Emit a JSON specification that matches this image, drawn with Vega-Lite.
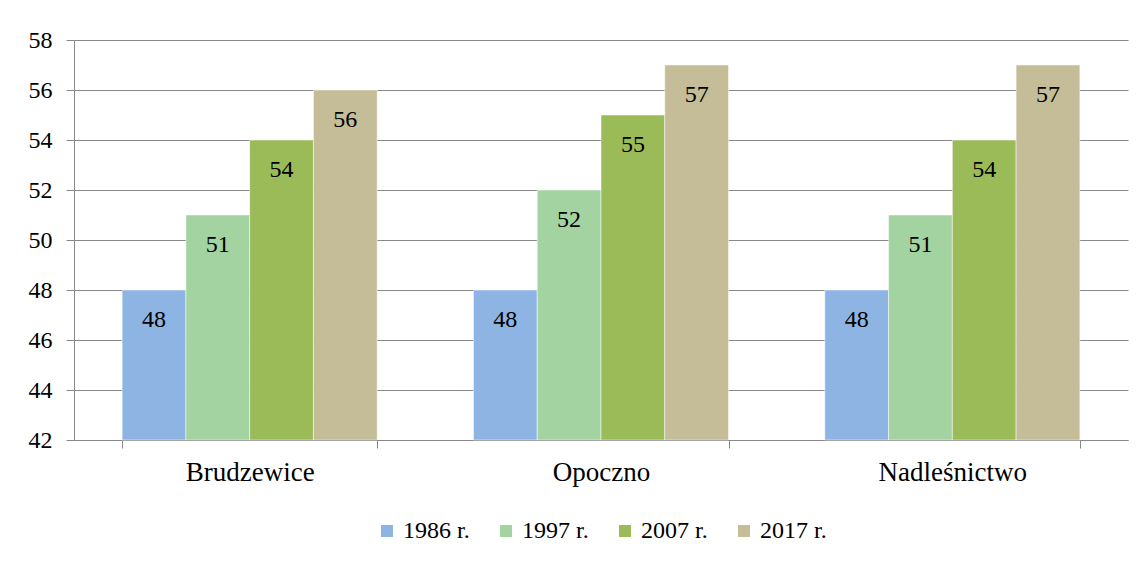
{
  "$schema": "https://vega.github.io/schema/vega-lite/v6.json",
  "width": 1054,
  "height": 400,
  "autosize": "none",
  "padding": {"left": 74, "top": 40, "right": 16, "bottom": 122},
  "background": "white",
  "config": {
    "view": {"stroke": null},
    "font": "Liberation Serif, serif",
    "legend": {"layout": {"bottom": {"anchor": "middle"}}}
  },
  "data": {
    "values": [
      {"place": "Brudzewice", "year": "1986 r.", "value": 48},
      {"place": "Brudzewice", "year": "1997 r.", "value": 51},
      {"place": "Brudzewice", "year": "2007 r.", "value": 54},
      {"place": "Brudzewice", "year": "2017 r.", "value": 56},
      {"place": "Opoczno", "year": "1986 r.", "value": 48},
      {"place": "Opoczno", "year": "1997 r.", "value": 52},
      {"place": "Opoczno", "year": "2007 r.", "value": 55},
      {"place": "Opoczno", "year": "2017 r.", "value": 57},
      {"place": "Nadleśnictwo", "year": "1986 r.", "value": 48},
      {"place": "Nadleśnictwo", "year": "1997 r.", "value": 51},
      {"place": "Nadleśnictwo", "year": "2007 r.", "value": 54},
      {"place": "Nadleśnictwo", "year": "2017 r.", "value": 57}
    ]
  },
  "encoding": {
    "x": {
      "field": "place",
      "type": "nominal",
      "sort": ["Brudzewice", "Opoczno", "Nadleśnictwo"],
      "scale": {"paddingInner": 0.274, "paddingOuter": 0.137},
      "axis": {
        "title": null,
        "labelAngle": 0,
        "tickBand": "extent",
        "domainColor": "#888888",
        "tickColor": "#888888",
        "tickSize": 8,
        "labelFont": "Liberation Serif, serif",
        "labelFontSize": 27,
        "labelColor": "#000000",
        "labelPadding": 11,
        "grid": false
      }
    },
    "xOffset": {
      "field": "year",
      "type": "nominal",
      "scale": {"paddingInner": 0, "paddingOuter": 0}
    },
    "y": {
      "field": "value",
      "type": "quantitative",
      "scale": {"domain": [42, 58], "nice": false, "zero": false},
      "axis": {
        "title": null,
        "values": [42, 44, 46, 48, 50, 52, 54, 56, 58],
        "domainColor": "#888888",
        "tickColor": "#888888",
        "gridColor": "#888888",
        "grid": true,
        "tickSize": 8,
        "labelFont": "Liberation Serif, serif",
        "labelFontSize": 24,
        "labelColor": "#000000",
        "labelPadding": 14
      }
    }
  },
  "layer": [
    {
      "mark": {"type": "bar", "stroke": "white", "strokeWidth": 0.5},
      "encoding": {
        "y2": {"datum": 42},
        "color": {
          "field": "year",
          "type": "nominal",
          "scale": {
            "domain": ["1986 r.", "1997 r.", "2007 r.", "2017 r."],
            "range": ["#8EB4E3", "#A2D3A0", "#9BBB59", "#C4BD97"]
          },
          "legend": {
            "title": null,
            "orient": "bottom",
            "direction": "horizontal",
            "symbolType": "square",
            "symbolSize": 144,
            "symbolStrokeWidth": 0,
            "labelFont": "Liberation Serif, serif",
            "labelFontSize": 24,
            "labelColor": "#000000",
            "columnPadding": 24,
            "offset": 34
          }
        }
      }
    },
    {
      "mark": {
        "type": "text",
        "dy": 30,
        "baseline": "middle",
        "align": "center",
        "font": "Liberation Serif, serif",
        "fontSize": 24,
        "color": "#000000"
      },
      "encoding": {"text": {"field": "value", "type": "quantitative"}}
    }
  ]
}
